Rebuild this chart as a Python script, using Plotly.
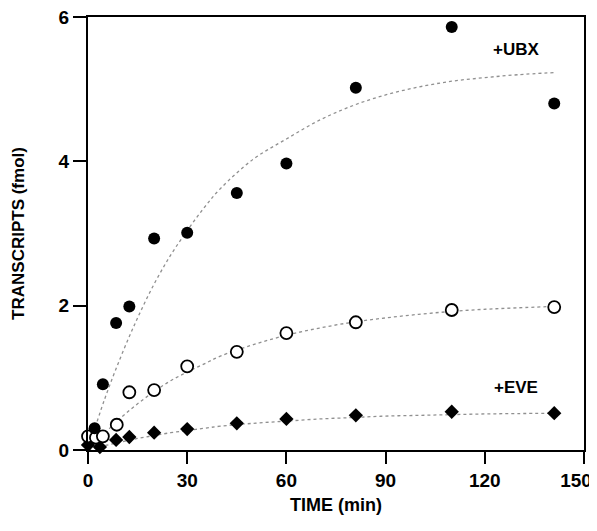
import plotly.graph_objects as go

ubx_t = [2, 4.5, 8.5, 12.5, 20, 30, 45, 60, 81, 110, 141]
ubx_v = [0.30, 0.91, 1.76, 1.99, 2.93, 3.01, 3.56, 3.97, 5.02, 5.86, 4.80]

open_t = [0, 2.4, 4.5, 8.7, 12.5, 20, 30, 45, 60, 81, 110, 141]
open_v = [0.19, 0.17, 0.19, 0.35, 0.80, 0.83, 1.16, 1.36, 1.62, 1.77, 1.94, 1.98]

eve_t = [0, 3.6, 8.5, 12.5, 20, 30, 45, 60, 81, 110, 141]
eve_v = [0.07, 0.04, 0.14, 0.18, 0.24, 0.29, 0.37, 0.43, 0.48, 0.53, 0.51]

# Fitted curves
fit_t = [0, 5, 10, 15, 20, 25, 30, 35, 40, 50, 60, 70, 80, 90, 100, 110, 120, 130, 141]
fit_ubx = [0.0, 0.70, 1.30, 1.83, 2.30, 2.70, 3.04, 3.35, 3.62, 4.03, 4.31, 4.57, 4.77,
           4.92, 5.03, 5.11, 5.16, 5.20, 5.23]
fit_open = [0.0, 0.23, 0.45, 0.64, 0.81, 0.96, 1.08, 1.19, 1.30, 1.46, 1.59, 1.69, 1.77,
            1.83, 1.88, 1.92, 1.95, 1.97, 1.99]
fit_eve = [0.0, 0.06, 0.11, 0.16, 0.20, 0.24, 0.27, 0.30, 0.33, 0.37, 0.40, 0.43, 0.45,
           0.47, 0.48, 0.49, 0.50, 0.505, 0.51]

x_ticks = [0, 30, 60, 90, 120, 150]
x_labels = ["0", "30", "60", "90", "120", "150"]
y_ticks = [0, 2, 4, 6]
y_labels = ["0", "2", "4", "6"]

curve_line = dict(color="#909090", width=1.3, dash="dot", shape="spline")

fig = go.Figure()
for fv in (fit_ubx, fit_open, fit_eve):
    fig.add_trace(go.Scatter(x=fit_t, y=fv, mode="lines", line=curve_line,
                             hoverinfo="skip", showlegend=False))

fig.add_trace(go.Scatter(x=eve_t, y=eve_v, mode="markers", showlegend=False,
                         marker=dict(symbol="diamond", size=11, color="black"),
                         cliponaxis=False))
fig.add_trace(go.Scatter(x=open_t, y=open_v, mode="markers", showlegend=False,
                         marker=dict(symbol="circle", size=12, color="white",
                                     line=dict(color="black", width=1.8)),
                         cliponaxis=False))
fig.add_trace(go.Scatter(x=ubx_t, y=ubx_v, mode="markers", showlegend=False,
                         marker=dict(symbol="circle", size=12, color="black"),
                         cliponaxis=False))

fam = "Liberation Sans, Arial, sans-serif"
font = dict(family=fam, size=19, color="black")

fig.add_annotation(x=129.5, y=5.55, text="<b>+UBX</b>", showarrow=False,
                   xref="x", yref="y", font=dict(size=17, family=fam, color="black"))
fig.add_annotation(x=129.5, y=0.86, text="<b>+EVE</b>", showarrow=False,
                   xref="x", yref="y", font=dict(size=17, family=fam, color="black"))

xt = ["<b>%s</b>" % s for s in x_labels]
xt[-1] = xt[-1] + "&nbsp;&nbsp;&nbsp;"

fig.update_layout(
    width=589, height=523,
    margin=dict(l=80, r=13, t=9, b=81),
    paper_bgcolor="white", plot_bgcolor="white",
    font=font,
    xaxis=dict(range=[0, 150], tickvals=x_ticks, ticktext=xt,
               tickfont=dict(size=19, family=fam, color="black"),
               ticklabeloverflow="allow",
               ticks="outside", ticklen=12, tickwidth=2, tickcolor="black",
               showline=True, linecolor="black", linewidth=2, mirror=True,
               showgrid=False, zeroline=False, automargin=False,
               title=dict(text="<b>TIME (min)</b>", standoff=9,
                          font=dict(size=18, family=fam, color="black"))),
    yaxis=dict(range=[0, 6], tickvals=y_ticks,
               ticktext=["<b>%s</b>" % s for s in y_labels],
               tickfont=dict(size=19, family=fam, color="black"),
               ticklabeloverflow="allow",
               ticks="outside", ticklen=13, tickwidth=2, tickcolor="black",
               showline=True, linecolor="black", linewidth=2, mirror=True,
               showgrid=False, zeroline=False, automargin=False,
               title=dict(text="<b>TRANSCRIPTS (fmol)</b>", standoff=30,
                          font=dict(size=17, family=fam, color="black"))),
)

fig.write_html("out.html")
